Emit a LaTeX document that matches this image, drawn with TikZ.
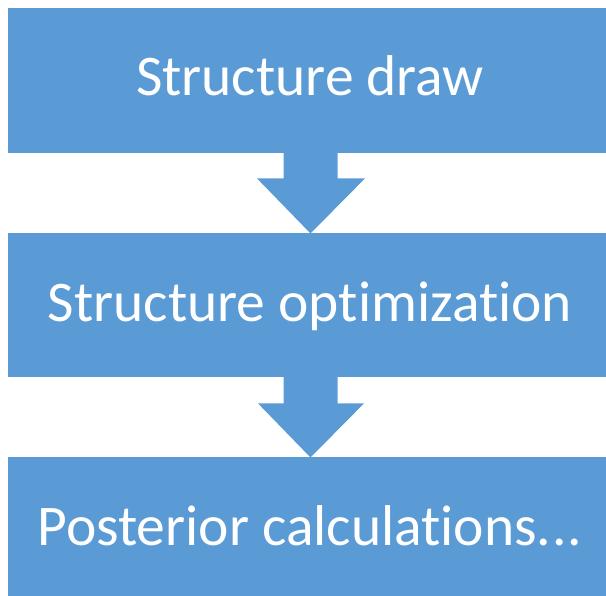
\documentclass[tikz,border=0pt]{standalone}
\usepackage{fontspec}
\setmainfont[Ligatures={NoCommon}]{Carlito}
\usetikzlibrary{calc}
\definecolor{boxblue}{HTML}{5B9BD5}
\begin{document}
\begin{tikzpicture}[x=1pt,y=-1pt,
  stage/.style={fill=boxblue, draw=none, inner sep=0pt, minimum width=598pt, anchor=north west},
  stagetext/.style={text=white, font=\fontsize{57.5}{60}\selectfont, anchor=base, inner sep=0pt},
  flow/.style={fill=boxblue, draw=none}]
\useasboundingbox (0,0) rectangle (606,596);
\node[stage, minimum height=145pt] (b1) at (8,8) {};
\node[stage, minimum height=144pt] (b2) at (8,233) {};
\node[stage, minimum height=139pt] (b3) at (8,457) {};
\node[stagetext] (t1) at (310,96) {Structure draw};
\node[stagetext] (t2) at (310,321.5) {Structure optimization};
\node[stagetext] (t3) at (310,545) {Posterior calculations.\kern1pt.\kern1pt.};
\fill[flow] ($(b1.south west)+(275.5,-1)$) -- ($(b1.south west)+(329.5,-1)$)
  -- ($(b1.south west)+(329.5,25)$) -- ($(b1.south west)+(357,25)$)
  -- ($(b2.north west)+(302.5,0.5)$) -- ($(b1.south west)+(249,25)$)
  -- ($(b1.south west)+(275.5,25)$) -- cycle;
\fill[flow] ($(b2.south west)+(275.5,-1)$) -- ($(b2.south west)+(329.5,-1)$)
  -- ($(b2.south west)+(329.5,26)$) -- ($(b2.south west)+(356,26)$)
  -- ($(b3.north west)+(302.5,0.5)$) -- ($(b2.south west)+(250,26)$)
  -- ($(b2.south west)+(275.5,26)$) -- cycle;
\end{tikzpicture}
\end{document}
